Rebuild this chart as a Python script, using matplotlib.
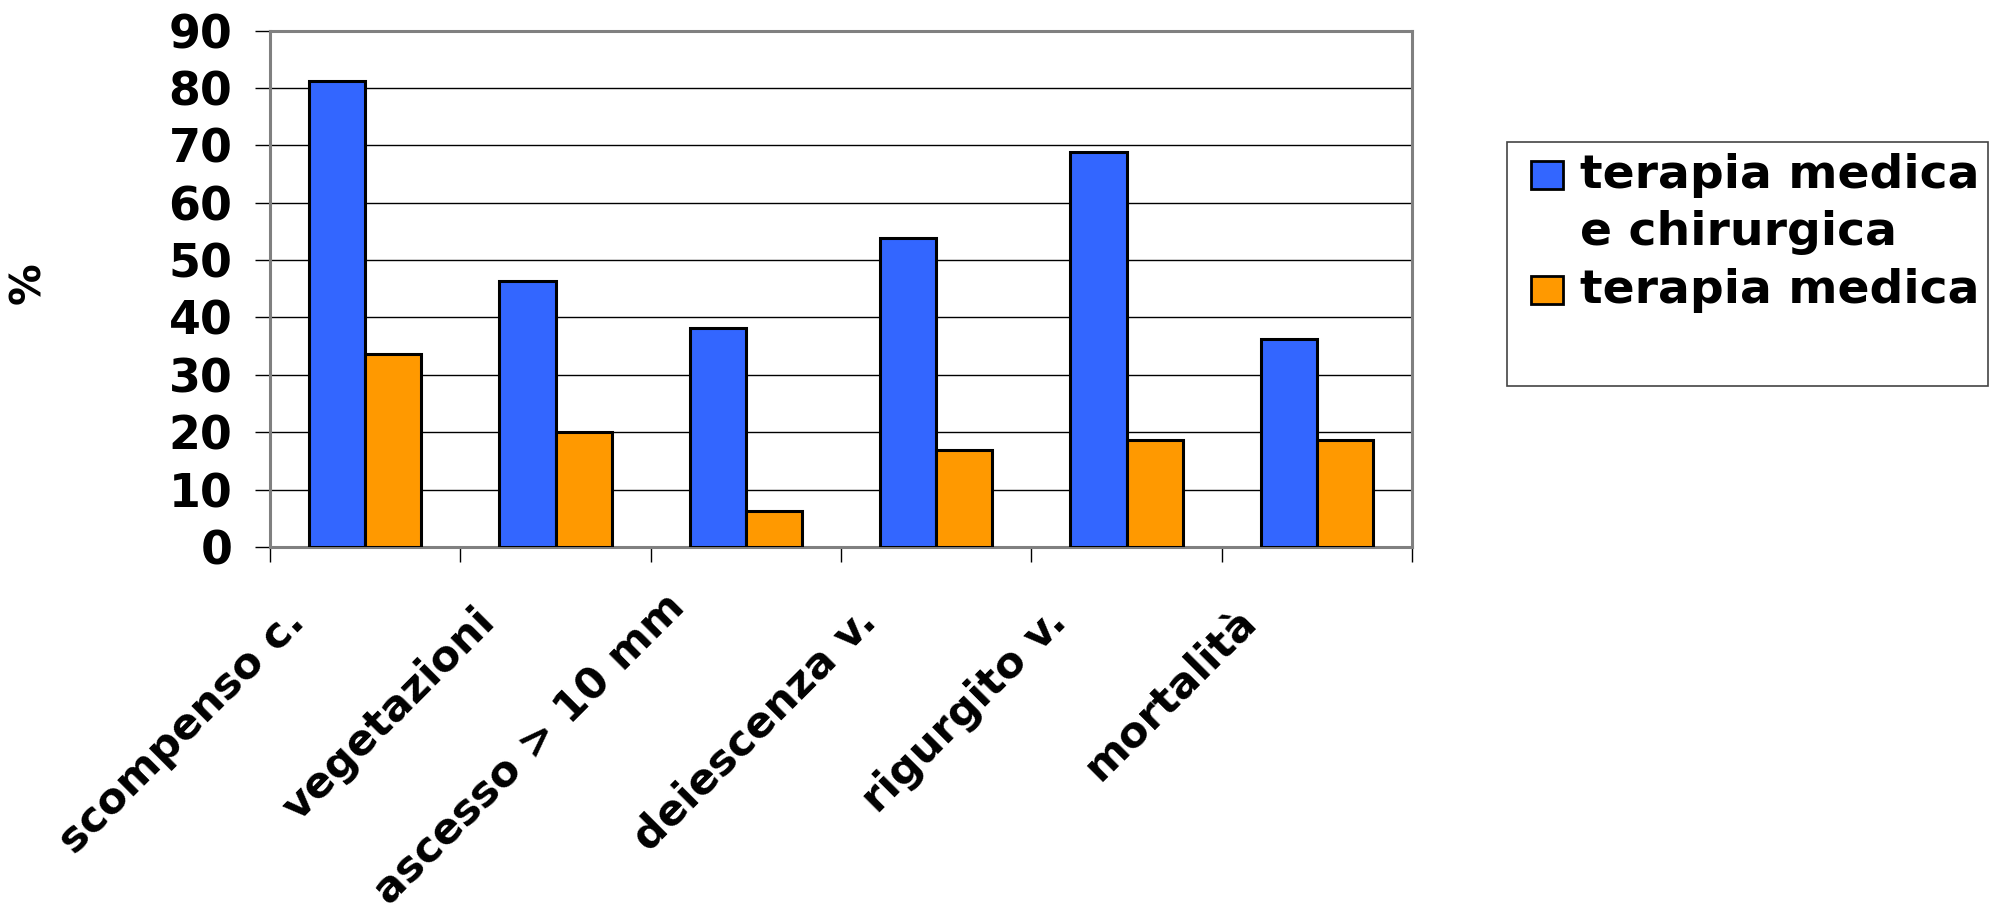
import numpy as np
import matplotlib
matplotlib.use("Agg")
import matplotlib.pyplot as plt
import matplotlib.transforms as mtransforms
from matplotlib.patches import Rectangle

plt.rcParams['font.family'] = ['DejaVu Sans']
plt.rcParams['font.weight'] = 'bold'

# dati
categorie = ["scompenso c.", "vegetazioni", "ascesso > 10 mm",
             "deiescenza v.", "rigurgito v.", "mortalità"]
med_chir = [81.3, 46.4, 38.2, 53.8, 68.8, 36.2]
medica = [33.7, 20.0, 6.3, 16.9, 18.7, 18.7]
serie = ["terapia medica\ne chirurgica", "terapia medica"]
colori = ["#3366FF", "#FF9900"]
y_ticks = [0, 10, 20, 30, 40, 50, 60, 70, 80, 90]

W, H = 1997, 916
fig = plt.figure(figsize=(W / 100, H / 100), dpi=100)
ax = fig.add_axes([270 / W, 1 - 547 / H, 1142 / W, (547 - 30.6) / H])

x = np.arange(len(categorie)) + 0.5
w = 0.295
ax.bar(x - w / 2, med_chir, w, color=colori[0], edgecolor="black", linewidth=2.2, zorder=3)
ax.bar(x + w / 2, medica, w, color=colori[1], edgecolor="black", linewidth=2.2, zorder=3)

ax.set_xlim(0, len(categorie))
ax.set_ylim(0, 90)
ax.set_yticks(y_ticks)
ax.set_yticklabels([str(v) for v in y_ticks], fontsize=33, fontweight="bold")
ax.yaxis.grid(True, color="black", linewidth=1.0)
ax.set_axisbelow(True)

ax.set_xticks(np.arange(len(categorie) + 1))
ax.set_xticklabels([])
ax.set_xticks(x, minor=True)
ax.set_xticklabels(categorie, minor=True, rotation=45, ha="right", va="top",
                   fontsize=31, fontweight="bold")
ax.tick_params(axis="x", which="major", length=11, width=1, color="black", direction="out")
ax.tick_params(axis="x", which="minor", length=0, pad=34)
ax.tick_params(axis="y", length=11, width=1, color="black", direction="out", pad=16)

# le etichette ruotate sono spostate un po' a sinistra; "ascesso" un po' più in alto
for lab in ax.get_xticklabels(minor=True):
    dy = 0.08 if lab.get_text().startswith("ascesso") else -0.06
    lab.set_transform(lab.get_transform() +
                      mtransforms.ScaledTranslation(-0.52, dy, fig.dpi_scale_trans))

for s in ax.spines.values():
    s.set_color("#808080")
    s.set_linewidth(2.2)

fig.text(28 / W, 1 - 283 / H, "%", rotation=90, ha="center", va="center",
         fontsize=30, fontweight="bold")

# legenda disegnata a mano (riquadro come in Excel)
fig.patches.append(Rectangle((1507 / W, 1 - 386 / H), 481 / W, 244 / H,
                             transform=fig.transFigure, facecolor="white",
                             edgecolor="#444444", linewidth=1.2))
righe = [(serie[0], colori[0], 188), (serie[1], colori[1], 302.7)]
for testo, col, base in righe:
    fig.patches.append(Rectangle((1531 / W, 1 - (base + 1) / H), 32 / W, 28 / H,
                                 transform=fig.transFigure, facecolor=col,
                                 edgecolor="black", linewidth=2.0))
    for k, riga in enumerate(testo.split("\n")):
        fig.text(1580 / W, 1 - (base + 57 * k) / H, riga, ha="left", va="baseline",
                 fontsize=34, fontweight="bold")

fig.savefig("out.png", dpi=100)
